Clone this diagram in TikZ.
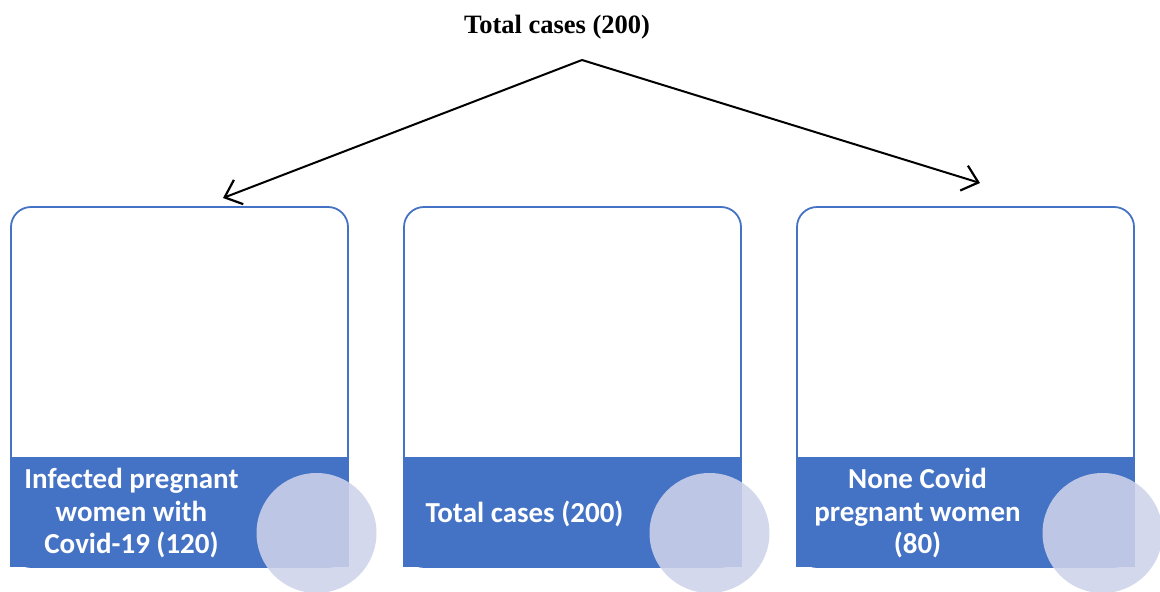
\documentclass[tikz,border=0pt]{standalone}
\usepackage{fontspec}
\setmainfont{Liberation Serif}
\newfontfamily\cardfont{Carlito}
\usetikzlibrary{arrows.meta,positioning,calc}
\definecolor{CardBlue}{HTML}{4472C4}
\definecolor{Lavender}{RGB}{206,211,234}

\begin{document}
\begin{tikzpicture}[x=1pt,y=-1pt,
  card/.style={draw=CardBlue,line width=1.8pt,rounded corners=20pt,
    minimum width=337pt,minimum height=360pt,inner sep=0pt},
  band/.style={fill=CardBlue,minimum width=339pt,minimum height=110pt,inner sep=0pt},
  bandtext/.style={text=white,align=center,
    font=\cardfont\bfseries\fontsize{29}{32.5}\selectfont},
  bubble/.style={circle,fill=Lavender,fill opacity=.88,minimum size=120pt,inner sep=0pt}]
  \useasboundingbox (0,0) rectangle (1160,592);

  % title and the two arrows
  \node[font=\bfseries\fontsize{26.5}{30}\selectfont] (total) at (557,27) {Total cases (200)};
  \coordinate (apex) at (582,60);
  \coordinate (infend) at (223,198);
  \coordinate (nonend) at (980,183);
  \draw[line width=2pt,-{Straight Barb[length=15pt,width=26pt,line width=2.2pt]}] (apex) -- (infend);
  \draw[line width=2pt,-{Straight Barb[length=15pt,width=26pt,line width=2.2pt]}] (apex) -- (nonend);

  % the three cards
  \foreach \name/\cx/\txt in {inf/179.5/{Infected pregnant\\women with\\Covid-19 (120)},
                             tot/572.5/{Total cases (200)},
                             non/965.5/{None Covid\\pregnant women\\(80)}}{
    \node[card] (\name card) at (\cx,387) {};
    \node[band] (\name band) at (\cx,512) {};
    \node[bandtext] (\name text) at ($(\name band.center)+(-48,1.5)$) {\txt};
    \node[bubble] (\name bubble) at ($(\name band.center)+(137,21)$) {};
  }
\end{tikzpicture}
\end{document}
